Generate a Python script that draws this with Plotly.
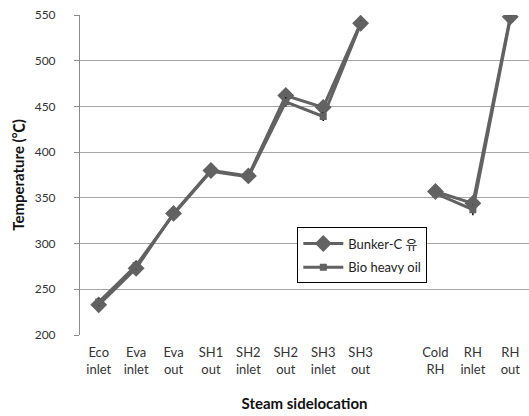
import plotly.graph_objects as go

categories = ["Eco<br>inlet", "Eva<br>inlet", "Eva<br>out", "SH1<br>out", "SH2<br>inlet",
              "SH2<br>out", "SH3<br>inlet", "SH3<br>out", " ", "Cold<br>RH", "RH<br>inlet", "RH<br>out"]
bunker_c = [233, 273, 333, 380, 374, 462, 449, 541, None, 357, 344, 548]
bio_heavy = [236, 276, 332, 379, 373, 455, 439, 540, None, 355, 337, 546]
bio_err = [4, 4, 3, 3, 3, 5, 5, 4, None, 3, 6, 4]

font_main = "Lato, 'Noto Sans CJK KR', sans-serif"
line_col = "#626262"

fig = go.Figure()
fig.add_trace(go.Scatter(
    x=categories, y=bunker_c, name="Bunker-C 유", mode="lines+markers", legendgroup="a",
    line=dict(color=line_col, width=3), marker=dict(symbol="diamond", size=13, color=line_col),
    connectgaps=False))
fig.add_trace(go.Scatter(
    x=categories, y=bio_heavy, name="Bio heavy oil", mode="lines+markers", legendgroup="b",
    line=dict(color=line_col, width=3), marker=dict(symbol="square", size=7, color=line_col),
    error_y=dict(type="data", array=bio_err, visible=True, color="black", thickness=1.5, width=0),
    connectgaps=False))

fig.update_layout(
    width=529, height=416,
    margin=dict(l=80, r=0, t=15, b=81),
    paper_bgcolor="white", plot_bgcolor="white",
    font=dict(family=font_main, size=12, color="#333"),
    showlegend=True,
    legend=dict(x=0.484, y=0.336, xanchor="left", yanchor="top",
                bgcolor="white", bordercolor="black", borderwidth=1, itemwidth=40,
                tracegroupgap=4, font=dict(size=13, color="#222")),
    xaxis=dict(type="category", categoryorder="array", categoryarray=categories,
               showgrid=False, showline=False, ticks="outside", ticklen=5,
               tickcolor="rgba(0,0,0,0)", tickfont=dict(size=13, color="#333"),
               title=dict(text="<b>Steam sidelocation</b>", font=dict(size=15, color="#111"), standoff=22),
               range=[-0.5, 11.5], automargin=False),
    yaxis=dict(range=[200, 550], dtick=50, showgrid=True, gridcolor="#a6a6a6", gridwidth=1,
               showline=True, linecolor="#8c8c8c", linewidth=1, ticks="outside", ticklen=5,
               tickcolor="#8c8c8c", tickfont=dict(size=12, color="#333"), ticklabelstandoff=16,
               title=dict(text="<b>Temperature (℃)</b>", font=dict(size=15, color="#111"), standoff=6),
               zeroline=False, automargin=False),
)
fig.write_html("out.html", config={"displayModeBar": False},
               post_script="document.body.style.margin='0px';")
